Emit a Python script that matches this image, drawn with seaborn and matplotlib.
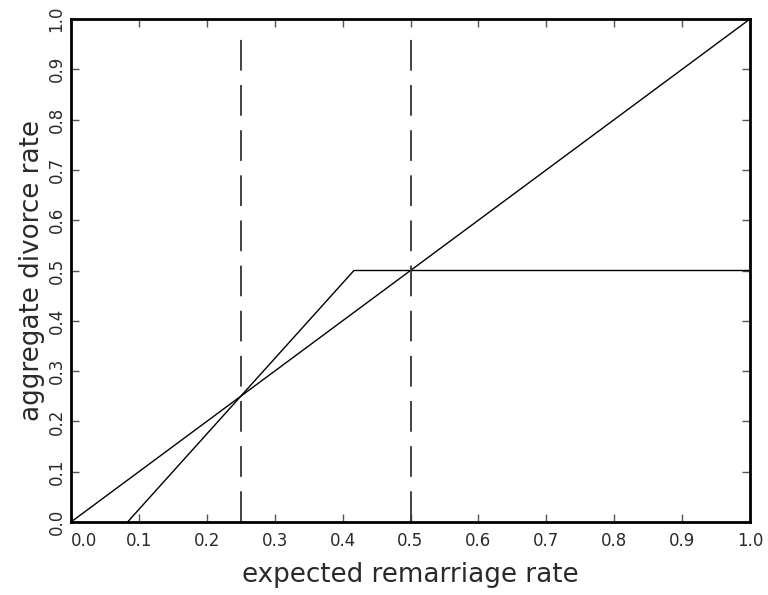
import matplotlib
matplotlib.use("Agg")
import matplotlib.pyplot as plt
import seaborn as sns
import pandas as pd

# data
diag_x = [0.0, 1.0]
diag_y = [0.0, 1.0]
kink_x = [0.0833, 0.4167, 1.0]
kink_y = [0.0, 0.5, 0.5]
vline_x = [0.25, 0.5]
vline_top = 0.968
ticks = [0.0, 0.1, 0.2, 0.3, 0.4, 0.5, 0.6, 0.7, 0.8, 0.9, 1.0]
tick_labels = ["0.0", "0.1", "0.2", "0.3", "0.4", "0.5", "0.6", "0.7", "0.8", "0.9", "1.0"]

sns.set_theme(style="ticks")
plt.rcParams['font.family'] = ['DejaVu Sans']
plt.rcParams['text.color'] = '#2a2a2a'
plt.rcParams['axes.labelcolor'] = '#2a2a2a'
plt.rcParams['xtick.color'] = '#555555'
plt.rcParams['ytick.color'] = '#555555'
plt.rcParams['xtick.labelcolor'] = '#2a2a2a'
plt.rcParams['ytick.labelcolor'] = '#2a2a2a'

fig = plt.figure(figsize=(7.68, 5.95), dpi=100)
ax = fig.add_axes([71/768, 1-522/595, (750-71)/768, (522-19)/595])

df1 = pd.DataFrame({"x": diag_x, "y": diag_y})
df2 = pd.DataFrame({"x": kink_x, "y": kink_y})
sns.lineplot(data=df1, x="x", y="y", ax=ax, color="black", lw=1.0, sort=False)
sns.lineplot(data=df2, x="x", y="y", ax=ax, color="black", lw=1.0, sort=False)
for vx in vline_x:
    ax.plot([vx, vx], [0.0, vline_top], color="#333333", lw=1.3, linestyle=(0, (17, 8)))

ax.set_xlim(0, 1)
ax.set_ylim(0, 1)
ax.set_xticks(ticks)
ax.set_yticks(ticks)
ax.set_xticklabels(tick_labels, fontsize=12)
ax.set_yticklabels(tick_labels, fontsize=12, rotation=90, va='center')
ax.get_xticklabels()[0].set_ha('left')
ax.tick_params(direction='in', length=6, width=1, top=True, right=True,
               labeltop=False, labelright=False, pad=7)
ax.tick_params(axis='y', pad=4)
for s in ax.spines.values():
    s.set_linewidth(2)
    s.set_color('black')
ax.set_xlabel("expected remarriage rate", fontsize=18.8, labelpad=9)
ax.set_ylabel("aggregate divorce rate", fontsize=18.8, labelpad=2)

fig.savefig("out.png", dpi=100)
